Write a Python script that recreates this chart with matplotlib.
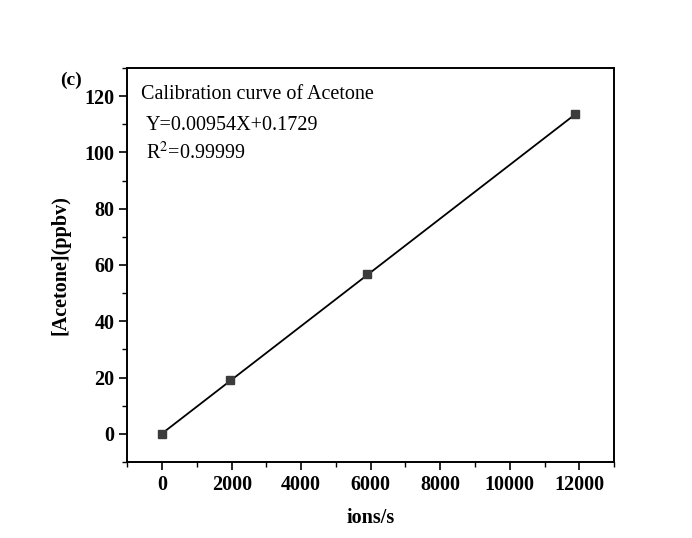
import numpy as np
import matplotlib
matplotlib.use("Agg")
import matplotlib.pyplot as plt

# Data
ions_per_s = [0, 1955, 5904, 11868]
acetone_ppbv = [0.0, 19.1, 56.8, 113.5]
slope = 0.00954
intercept = 0.1729
x_ticks = [0, 2000, 4000, 6000, 8000, 10000, 12000]
y_ticks = [0, 20, 40, 60, 80, 100, 120]

plt.rcParams['font.family'] = ['Liberation Serif', 'DejaVu Serif']
plt.rcParams['mathtext.fontset'] = 'stix'

fig = plt.figure(figsize=(6.92, 5.38), dpi=100)
ax = fig.add_axes([0.1842, 0.1413, 0.8873 - 0.1842, 0.8736 - 0.1413])

xfit = np.array([min(ions_per_s), max(ions_per_s)])
ax.plot(xfit, slope * xfit + intercept, color='black', lw=1.3, zorder=2)
ax.plot(ions_per_s, acetone_ppbv, ls='none', marker='s', ms=6,
        color='#3c3c3c', mec='#3c3c3c', zorder=3)

ax.set_xlim(-1000, 13000)
ax.set_ylim(-10, 130)
ax.set_xticks(x_ticks)
ax.set_yticks(y_ticks)
ax.set_xticks(np.arange(-1000, 13001, 1000), minor=True)
ax.set_yticks(np.arange(-10, 131, 10), minor=True)
ax.tick_params(which='major', direction='out', length=6, width=1.2,
               labelsize=14.5, top=False, right=False)
ax.tick_params(which='minor', direction='out', length=3.5, width=1.0,
               top=False, right=False)
for lab in ax.get_xticklabels() + ax.get_yticklabels():
    lab.set_fontweight('bold')
for s in ax.spines.values():
    s.set_linewidth(1.4)

ax.set_xlabel('ions/s', fontsize=14.5, fontweight='bold', labelpad=9)
ax.set_ylabel('[Acetone](ppbv)', fontsize=14.5, fontweight='bold', labelpad=10)

ax.text(0.028, 0.933, 'Calibration curve of Acetone', transform=ax.transAxes,
        fontsize=14.5, ha='left', va='center')
ax.text(0.038, 0.855, 'Y=0.00954X+0.1729', transform=ax.transAxes,
        fontsize=14.5, ha='left', va='center')
ax.text(0.038, 0.785, 'R$^2$=0.99999', transform=ax.transAxes,
        fontsize=14.5, ha='left', va='center')

fig.text(60 / 692, 1 - 80 / 538, '(c)', fontsize=14, fontweight='bold',
         ha='left', va='center')

fig.savefig('out.png', dpi=100, facecolor='white')
